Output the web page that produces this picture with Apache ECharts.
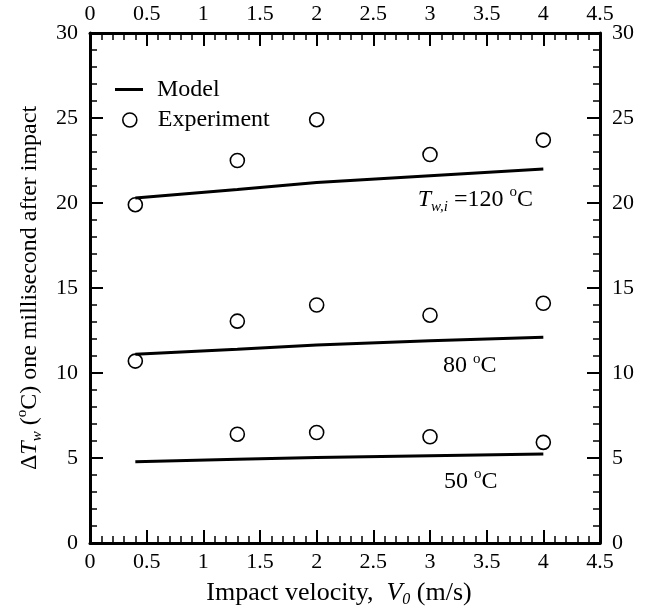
<!DOCTYPE html>
<html>
<head>
<meta charset="utf-8">
<script src="https://cdn.jsdelivr.net/npm/echarts@6/dist/echarts.min.js"></script>
<style>html,body{margin:0;padding:0;background:#fff}#c{width:647px;height:613px}</style>
</head>
<body>
<div id="c"></div>
<script>
// ---- data ----
const velocity = [0.4, 1.3, 2, 3, 4];
const model120 = [20.3, 20.8, 21.2, 21.6, 22.0];
const model80  = [11.1, 11.4, 11.65, 11.9, 12.1];
const model50  = [4.78, 4.92, 5.03, 5.13, 5.23];
const exp120 = [19.9, 22.5, 24.9, 22.85, 23.7];
const exp80  = [10.7, 13.05, 14.0, 13.4, 14.1];
const exp50  = [null, 6.4, 6.5, 6.25, 5.92];
const xTicks = [0, 0.5, 1, 1.5, 2, 2.5, 3, 3.5, 4, 4.5];
const yTicks = [0, 5, 10, 15, 20, 25, 30];
const annoX = [3.4, 3.35, 3.36];
const annoY = [20.2, 10.4, 3.6];
const annoText = [
  '{i|T}{sub|w,i}{n| =120 }{sup|o}{n|C}',
  '{n|80 }{sup|o}{n|C}',
  '{n|50 }{sup|o}{n|C}'
];

const FF = '"Liberation Serif", "DejaVu Serif", serif';
function makeRich(fs, ss) {
  const base = {fontFamily: FF, fontSize: fs, color: '#000', textBorderWidth: 0, opacity: 1};
  return {
    n: Object.assign({}, base, {lineHeight: 30}),
    i: Object.assign({}, base, {fontStyle: 'italic', lineHeight: 30}),
    sub: Object.assign({}, base, {fontSize: ss, fontStyle: 'italic', lineHeight: ss, verticalAlign: 'bottom'}),
    sup: Object.assign({}, base, {fontSize: ss, lineHeight: fs, verticalAlign: 'top'})
  };
}
const richTitle = makeRich(26, 16);
const richAnno = makeRich(24, 15);

const pairs = (ys) => velocity.map((x, k) => [x, ys[k]]).filter(p => p[1] != null);

function axisCommon() {
  return {
    axisLine: {show: true, onZero: false, lineStyle: {color: '#000', width: 3}},
    axisTick: {show: true, inside: true, length: 13, lineStyle: {color: '#000', width: 2}},
    minorTick: {show: true, splitNumber: 5, length: 7, lineStyle: {color: '#000', width: 1.5}},
    splitLine: {show: false}
  };
}
function xAx(pos) {
  return Object.assign(axisCommon(), {
    type: 'value', position: pos, min: xTicks[0], max: xTicks[xTicks.length - 1], interval: 0.5,
    axisLabel: {show: true, margin: 8, fontFamily: FF, fontSize: 22, color: '#000', showMinLabel: true, showMaxLabel: true}
  });
}
function yAx(pos) {
  return Object.assign(axisCommon(), {
    type: 'value', position: pos, min: yTicks[0], max: yTicks[yTicks.length - 1], interval: 5,
    axisLabel: {show: true, margin: 12, fontFamily: FF, fontSize: 22, color: '#000', showMinLabel: true, showMaxLabel: true}
  });
}

const xBottom = Object.assign(xAx('bottom'), {
  name: '{n|Impact velocity,  }{i|V}{sub|0}{n| (m/s)}',
  nameLocation: 'middle', nameGap: 35,
  nameTextStyle: {fontFamily: FF, fontSize: 26, color: '#000', rich: richTitle, padding: [0, 12, 0, 0]}
});
const yLeft = Object.assign(yAx('left'), {
  name: '{n|Δ}{i|T}{sub|w}{n| (}{sup|o}{n|C) one millisecond after impact}',
  nameLocation: 'middle', nameGap: 45,
  nameTextStyle: {fontFamily: FF, fontSize: 24, color: '#000', rich: makeRich(24, 15)}
});

const lineStyleModel = {color: '#000', width: 3};
const expItem = {color: 'transparent', borderColor: '#000', borderWidth: 1.6, opacity: 1};

function modelSeries(ys) {
  return {name: 'Model', type: 'line', data: pairs(ys), symbol: 'none', lineStyle: lineStyleModel, itemStyle: {color: '#000'}, z: 2};
}
function expSeries(ys) {
  return {name: 'Experiment', type: 'scatter', data: pairs(ys), symbol: 'circle', symbolSize: 14, itemStyle: expItem, z: 3};
}

const option = {
  animation: false,
  backgroundColor: '#fff',
  grid: {left: 90, right: 47, top: 33, bottom: 70, containLabel: false},
  xAxis: [xBottom, xAx('top')],
  yAxis: [yLeft, yAx('right')],
  legend: [
    {
      orient: 'vertical', left: 115, top: 77.5, padding: 0,
      itemWidth: 28, itemHeight: 3,
      textStyle: {fontFamily: FF, fontSize: 24, color: '#000', padding: [0, 0, 0, 9]},
      data: [{name: 'Model', icon: 'rect', itemStyle: {color: '#000', borderWidth: 0}}]
    },
    {
      orient: 'vertical', left: 122, top: 108, padding: 0,
      itemWidth: 14, itemHeight: 14,
      textStyle: {fontFamily: FF, fontSize: 24, color: '#000', padding: [0, 0, 0, 16]},
      data: [{name: 'Experiment', icon: 'circle', itemStyle: expItem}]
    }
  ],
  series: [
    modelSeries(model120), modelSeries(model80), modelSeries(model50),
    expSeries(exp120), expSeries(exp80), expSeries(exp50),
    {
      name: 'annotations', type: 'scatter', symbolSize: 0, silent: true,
      itemStyle: {color: '#000', opacity: 1},
      data: annoX.map((x, k) => ({value: [x, annoY[k]], label: {formatter: annoText[k]}})),
      label: {show: true, position: 'inside', rich: richAnno, color: '#000', opacity: 1, textBorderWidth: 0, textBorderColor: 'transparent'}
    }
  ]
};

const chart = echarts.init(document.getElementById('c'), null, {renderer: 'canvas'});
chart.setOption(option);
</script>
</body>
</html>
